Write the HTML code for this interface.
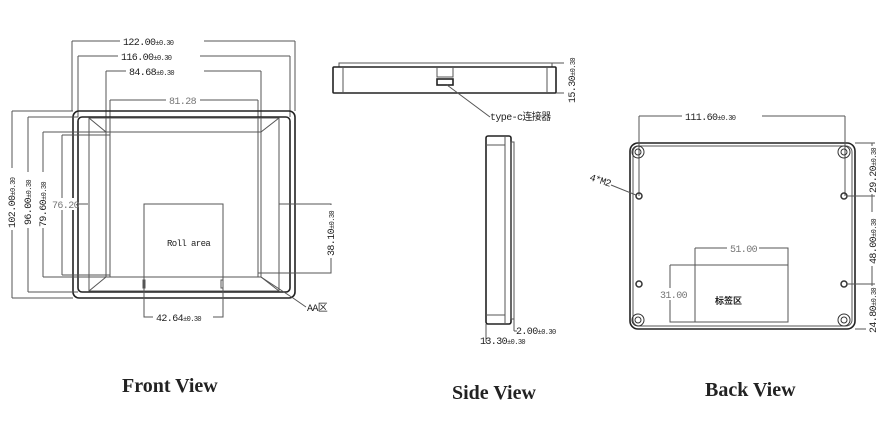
<!DOCTYPE html>
<html><head><meta charset="utf-8"><style>
html,body{margin:0;padding:0;background:#fff}
svg{display:block}
.l{stroke:#555;stroke-width:1;fill:none}
.t{stroke:#222;stroke-width:1.6;fill:none}
.d{font-family:"Liberation Mono",monospace;font-size:10px;fill:#222;letter-spacing:-0.6px}
.s{font-size:7px}
.g{fill:#777}
.ti{font-family:"Liberation Serif",serif;font-weight:bold;font-size:20px;fill:#222}
</style></head><body>
<svg width="895" height="436" viewBox="0 0 895 436" xmlns="http://www.w3.org/2000/svg">
<g>
<path class="l" d="M72 41H295M72 41V111M295 41V111"/>
<path class="l" d="M78 56H290M78 56V117M290 56V117"/>
<path class="l" d="M106 71H261M106 71V132M261 71V132"/>
<path class="l" d="M110 100H258M110 100V277M258 100V277" stroke="#777"/>
<rect x="120" y="35" width="84" height="11" fill="#fff"/>
<text class="d" x="123" y="45">122.00<tspan class="s">±0.30</tspan></text>
<rect x="118" y="50" width="82" height="11" fill="#fff"/>
<text class="d" x="121" y="60">116.00<tspan class="s">±0.30</tspan></text>
<rect x="126" y="65" width="78" height="11" fill="#fff"/>
<text class="d" x="129" y="75">84.68<tspan class="s">±0.30</tspan></text>
<rect x="166" y="94" width="34" height="11" fill="#fff"/>
<text class="d g" x="169" y="104">81.28</text>
<rect class="t" x="73" y="111" width="222" height="187" rx="6"/>
<rect class="t" x="78" y="117" width="212" height="175" rx="4"/>
<rect class="l" x="89" y="118" width="190" height="173"/>
<rect class="l" x="106" y="132" width="155" height="145"/>
<path class="l" d="M89 118L106 132M279 118L261 132M89 291L106 277M279 291L261 277"/>
<path class="l" d="M261 277L293 298L306 307"/>
<text class="d" x="307" y="311">AA区</text>
<path class="l" d="M12 111V298M12 111H73M12 298H73"/>
<path class="l" d="M28 117V292M28 117H78M28 292H78"/>
<path class="l" d="M43 132V277M43 132H106M43 277H106"/>
<path class="l" d="M62 135V275M62 135H110M62 275H110"/>
<rect x="6" y="168" width="12" height="62" fill="#fff"/>
<text class="d" transform="translate(15,228) rotate(-90)">102.00<tspan class="s">±0.30</tspan></text>
<rect x="22" y="172" width="12" height="56" fill="#fff"/>
<text class="d" transform="translate(31,225) rotate(-90)">96.00<tspan class="s">±0.30</tspan></text>
<rect x="37" y="172" width="12" height="56" fill="#fff"/>
<text class="d" transform="translate(46,227) rotate(-90)">79.60<tspan class="s">±0.30</tspan></text>
<rect x="51" y="198" width="26" height="12" fill="#fff"/>
<text class="d g" x="52" y="208">76.20</text>
<path class="l" d="M78 204H88M279 204H290"/>
<rect class="l" x="144" y="204" width="79" height="73"/>
<text class="d" x="167" y="246" style="font-size:9px">Roll area</text>
<rect class="l" x="143" y="280" width="2" height="8"/>
<rect class="l" x="221" y="280" width="2" height="8"/>
<path class="l" d="M144 277V317H223V277"/>
<rect x="153" y="311" width="60" height="11" fill="#fff"/>
<text class="d" x="156" y="321">42.64<tspan class="s">±0.30</tspan></text>
<path class="l" d="M283 204H331V273H258"/>
<rect x="326" y="205" width="12" height="53" fill="#fff"/>
<text class="d" transform="translate(334,256) rotate(-90)">38.10<tspan class="s">±0.30</tspan></text>
<text class="ti" x="122" y="392">Front View</text>
</g>
<g>
<rect class="l" x="339" y="63" width="213" height="4"/>
<rect class="t" x="333" y="67" width="223" height="26" rx="1"/>
<path class="l" d="M343 67V93M547 67V93"/>
<path class="l" d="M437 67V77H453V67"/>
<rect class="t" x="437" y="79" width="16" height="6"/>
<path class="l" d="M447 85L490 117"/>
<text class="d" x="490" y="120" style="font-family:'Liberation Mono','Noto Sans CJK SC',monospace">type-c连接器</text>
<path class="l" d="M552 63H572M556 93H572M570 63V93"/>
<rect x="564" y="58" width="12" height="46" fill="#fff"/>
<text class="d" transform="translate(575,103) rotate(-90)">15.30<tspan class="s">±0.30</tspan></text>
<rect class="t" x="486" y="136" width="25" height="188" rx="2"/>
<path class="l" d="M505 136V324M486 145H505M486 315H505"/>
<rect class="l" x="511" y="142" width="3" height="177"/>
<path class="l" d="M514 319V331M486 324V342M514 331H517"/>
<text class="d" x="516" y="334">2.00<tspan class="s">±0.30</tspan></text>
<text class="d" x="480" y="344">13.30<tspan class="s">±0.30</tspan></text>
<text class="ti" x="452" y="399">Side View</text>
</g>
<g>
<rect class="t" x="630" y="143" width="225" height="186" rx="8"/>
<rect class="l" x="633" y="146" width="219" height="180" rx="6"/>
<path class="l" d="M639 116H845M639 116V196M845 116V196"/>
<rect x="682" y="110" width="80" height="12" fill="#fff"/>
<text class="d" x="685" y="120">111.60<tspan class="s">±0.30</tspan></text>
<g fill="none" stroke="#333">
<circle cx="638" cy="152" r="6"/><circle cx="638" cy="152" r="3"/>
<circle cx="844" cy="152" r="6"/><circle cx="844" cy="152" r="3"/>
<circle cx="638" cy="320" r="6"/><circle cx="638" cy="320" r="3"/>
<circle cx="844" cy="320" r="6"/><circle cx="844" cy="320" r="3"/>
<circle cx="639" cy="196" r="3" stroke-width="1.5"/><circle cx="844" cy="196" r="3" stroke-width="1.5"/>
<circle cx="639" cy="284" r="3" stroke-width="1.5"/><circle cx="844" cy="284" r="3" stroke-width="1.5"/>
</g>
<path class="l" d="M611 185L636 195"/>
<text class="d" transform="translate(589,180) rotate(18)">4*M2</text>
<path class="l" d="M855 143H875M847 196H875M847 284H875M855 329H875M872 143V329"/>
<rect x="866" y="146" width="12" height="48" fill="#fff"/>
<text class="d" transform="translate(876,193) rotate(-90)">29.20<tspan class="s">±0.30</tspan></text>
<rect x="866" y="212" width="12" height="54" fill="#fff"/>
<text class="d" transform="translate(876,264) rotate(-90)">48.00<tspan class="s">±0.30</tspan></text>
<rect x="866" y="286" width="12" height="46" fill="#fff"/>
<text class="d" transform="translate(876,333) rotate(-90)">24.80<tspan class="s">±0.30</tspan></text>
<path class="l" d="M695 248V322H788V248H695M670 265H788M670 265V322H695"/>
<rect x="727" y="242" width="32" height="12" fill="#fff"/>
<text class="d g" x="730" y="252">51.00</text>
<rect x="660" y="288" width="28" height="12" fill="#fff"/>
<text class="d g" x="660" y="298">31.00</text>
<text x="715" y="304" style="font-family:'Noto Sans CJK SC',sans-serif;font-size:9px;font-weight:bold;fill:#222">标签区</text>
<text class="ti" x="705" y="396">Back View</text>
</g>
</svg>
</body></html>
